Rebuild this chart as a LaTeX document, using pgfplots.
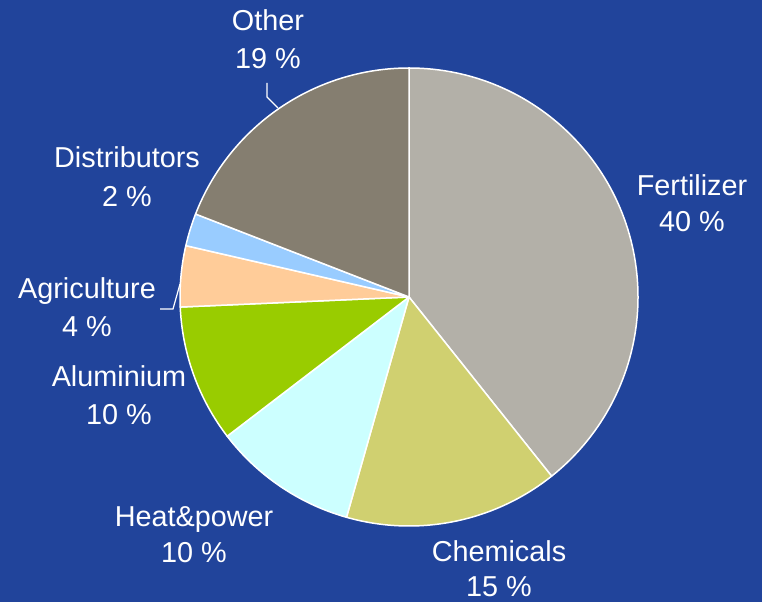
\documentclass[border=0pt]{standalone}
\usepackage{pgfplots}
\pgfplotsset{compat=1.18}
\usepackage{pgfplotstable}
\usepackage{fontspec}
\setmainfont{Liberation Sans}

\definecolor{bgc}{HTML}{21449B}
\definecolor{cFert}{HTML}{B3B0A8}
\definecolor{cChem}{HTML}{D0D070}
\definecolor{cHeat}{HTML}{CCFFFF}
\definecolor{cAlu}{HTML}{99CC00}
\definecolor{cAgri}{HTML}{FFCC99}
\definecolor{cDist}{HTML}{99CCFF}
\definecolor{cOther}{HTML}{857E70}

% share of each slice, clockwise from 12 o'clock
\pgfplotstableread{
value col
39.3 cFert
15.1 cChem
10.2 cHeat
9.7 cAlu
4.3 cAgri
2.3 cDist
19.1 cOther
}\piedata

\begin{document}
\begin{tikzpicture}
\begin{axis}[
scale only axis,
width=762pt,
height=602pt,
xmin=0, xmax=762,
ymin=-602, ymax=0,
hide axis,
clip=false,
]
\fill[bgc] (axis cs:0,-602) rectangle (axis cs:762,0);

\def\startang{90}
\pgfplotsforeachungrouped \i in {0,...,6}{%
  \pgfplotstablegetelem{\i}{value}\of\piedata \let\v\pgfplotsretval
  \pgfplotstablegetelem{\i}{col}\of\piedata \let\c\pgfplotsretval
  \pgfmathsetmacro\endang{\startang-3.6*\v}
  \edef\temp{\noexpand\filldraw[fill=\c, draw=white, line width=1.5pt, line join=round]
    (axis cs:409,-297) -- ++(\startang:229pt)
    arc[start angle=\startang, end angle=\endang, radius=229pt] -- cycle;}
  \temp
  \global\let\startang\endang
}

% leader lines
\draw[white, line width=1.2pt] (axis cs:267,-83) -- (axis cs:267,-97) -- (axis cs:278,-108);
\draw[white, line width=1.2pt] (axis cs:160,-309) -- (axis cs:173,-309) -- (axis cs:180,-284);

\tikzset{lab/.style={text=white, anchor=base, inner sep=0pt, font=\fontsize{28.8}{34}\selectfont}}
\node[lab] at (axis cs:692,-196) {Fertilizer};
\node[lab] at (axis cs:692,-232) {40 \%};
\node[lab] at (axis cs:499,-561) {Chemicals};
\node[lab] at (axis cs:499,-596) {15 \%};
\node[lab] at (axis cs:194,-526) {Heat\&power};
\node[lab] at (axis cs:194,-562) {10 \%};
\node[lab] at (axis cs:119,-387) {Aluminium};
\node[lab] at (axis cs:119,-425) {10 \%};
\node[lab] at (axis cs:87,-299) {Agriculture};
\node[lab] at (axis cs:87,-337) {4 \%};
\node[lab] at (axis cs:127,-168) {Distributors};
\node[lab] at (axis cs:127,-207) {2 \%};
\node[lab] at (axis cs:268,-31) {Other};
\node[lab] at (axis cs:268,-69) {19 \%};
\end{axis}
\end{tikzpicture}
\end{document}
